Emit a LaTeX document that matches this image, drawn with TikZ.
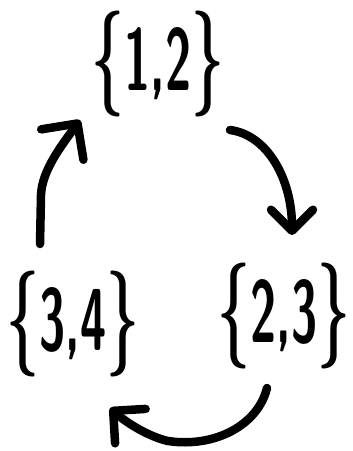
\documentclass[tikz,border=0pt]{standalone}
\usetikzlibrary{arrows.meta}
% larger braces around the set elements
\newcommand{\setof}[1]{{\fontsize{106}{106}\selectfont\{}#1{\fontsize{106}{106}\selectfont\}}}
\begin{document}
\begin{tikzpicture}[x=1pt,y=1pt,
  setlabel/.style={inner sep=0pt, xscale=0.54,
    font=\fontsize{88}{88}\selectfont\sffamily\bfseries},
  cyclearrow/.style={line width=8.5pt, line cap=round, line join=round},
  barb/.style={-{Straight Barb[length=#1, width=2*#1, round]}}]
  \useasboundingbox (0,0) rectangle (353,-451);

  % the three sets
  \node[setlabel] (n12) at (158,-64) {\setof{1,2}};
  \node[setlabel] (n23) at (284,-316) {\setof{2,3}};
  \node[setlabel] (n34) at (73,-324) {\setof{3,4}};

  % free ends of the arrows
  \coordinate (a1s) at (230,-130);
  \coordinate (a1e) at (292,-235);
  \coordinate (a2s) at (267,-388);
  \coordinate (a2e) at (110,-408);
  \coordinate (a3s) at (40,-244);
  \coordinate (a3e) at (80,-120);

  % {1,2} -> {2,3}
  \draw[cyclearrow, barb=21pt] (a1s) .. controls (268,-135) and (292,-180) .. (a1e);
  % {2,3} -> {3,4}
  \draw[cyclearrow, barb=23pt] (a2s) .. controls (258,-425) and (215,-448) .. (168,-441)
    .. controls (150,-437) and (128,-424) .. (a2e);
  % {3,4} -> {1,2}
  \draw[cyclearrow, barb=26pt] (a3s) -- (41,-195) .. controls (42,-170) and (62,-145) .. (a3e);
\end{tikzpicture}
\end{document}
